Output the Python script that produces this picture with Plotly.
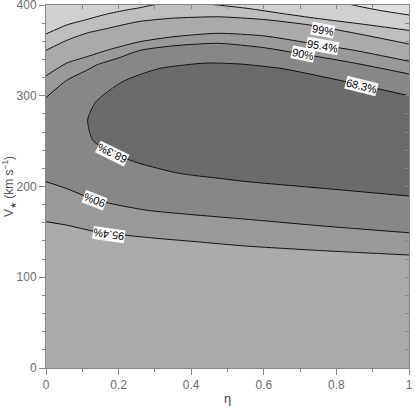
import plotly.graph_objects as go

# contour paths: eta (x) and V_star in km/s (y)
# outermost contour (only the top-right corner shows)
eta_b = [0.0, 0.3, 0.6, 0.75, 0.845, 0.92, 1.0]
v_b = [416, 430, 422, 410, 400, 394, 389]

# 99.73% contour (leaves the top between eta~0.3 and ~0.47)
eta_a = [0.0, 0.057, 0.112, 0.167, 0.222, 0.259, 0.294, 0.38, 0.473, 0.56, 0.644, 0.75, 0.87, 1.0]
v_a = [368, 378, 384, 390, 394.5, 397, 400, 403, 400, 396, 391, 385, 379, 372]

# 99%
eta_99 = [0.0, 0.057, 0.112, 0.167, 0.222, 0.259, 0.35, 0.473, 0.6, 0.726, 0.85, 1.0]
v_99 = [350, 361, 369, 374, 379, 382, 385.5, 387, 384, 378, 369, 357]

# 95.4% (upper and lower branch)
eta_954_up = [0.0, 0.057, 0.112, 0.167, 0.222, 0.259, 0.35, 0.473, 0.6, 0.726, 0.85, 1.0]
v_954_up = [322, 336, 343, 350, 356, 359.6, 365, 368.8, 366, 358, 350, 338]
eta_954_lo = [0.0, 0.055, 0.1376, 0.275, 0.413, 0.55, 0.762, 1.0]
v_954_lo = [161.2, 157.6, 150.2, 144, 139.2, 134.4, 129.3, 124.5]

# 90%
eta_90_up = [0.0, 0.057, 0.112, 0.14, 0.195, 0.259, 0.35, 0.473, 0.6, 0.726, 0.85, 1.0]
v_90_up = [298, 317, 328, 334, 341, 350, 355, 357.8, 353, 344.6, 336, 324]
eta_90_lo = [0.0, 0.055, 0.1376, 0.275, 0.413, 0.55, 0.762, 1.0]
v_90_lo = [205.3, 198, 185, 174, 168.6, 164, 156.5, 149]

# 68.3% closed loop, traced from the right edge (top) round to the right edge (bottom)
eta_683 = [1.0, 0.9, 0.809, 0.75, 0.65, 0.534, 0.44, 0.312, 0.211, 0.1376, 0.1147,
           0.1285, 0.1835, 0.2567, 0.3667, 0.4768, 0.55, 0.762, 1.0]
v_683 = [300, 309, 317, 322, 330, 335, 336, 330, 315.5, 293.4, 273.3,
         251.2, 236.6, 225.6, 214.5, 209, 205.5, 198, 189.5]

# contour labels
lab_text = ['99%', '95.4%', '90%', '68.3%', '68.3%', '90%', '95.4%']
lab_eta = [0.762, 0.762, 0.707, 0.869, 0.183, 0.133, 0.174]
lab_v = [373, 355, 346, 311, 236.6, 185, 147.3]
lab_angle = [10, 10, 12, 14, -154, -159, -172]

grey = '#6e6e6e'
fig = go.Figure()

# filled bands, outermost first
fig.add_trace(go.Scatter(x=eta_b, y=v_b, fill='tozeroy', fillcolor='#d0d0d0',
                         mode='none', hoverinfo='skip'))
fig.add_trace(go.Scatter(x=eta_a, y=v_a, fill='tozeroy', fillcolor='#bebebe',
                         mode='none', hoverinfo='skip'))
fig.add_trace(go.Scatter(x=eta_99, y=v_99, fill='tozeroy', fillcolor='#ababab',
                         mode='none', hoverinfo='skip'))
fig.add_trace(go.Scatter(x=eta_954_up + eta_954_lo[::-1], y=v_954_up + v_954_lo[::-1],
                         fill='toself', fillcolor='#999999', mode='none', hoverinfo='skip'))
fig.add_trace(go.Scatter(x=eta_90_up + eta_90_lo[::-1], y=v_90_up + v_90_lo[::-1],
                         fill='toself', fillcolor='#878787', mode='none', hoverinfo='skip'))
fig.add_trace(go.Scatter(x=eta_683, y=v_683, fill='toself', fillcolor='#6a6a6a',
                         mode='none', hoverinfo='skip'))

# contour lines on top
for xs, ys in [(eta_b, v_b), (eta_a, v_a), (eta_99, v_99),
               (eta_954_up, v_954_up), (eta_954_lo, v_954_lo),
               (eta_90_up, v_90_up), (eta_90_lo, v_90_lo), (eta_683, v_683)]:
    fig.add_trace(go.Scatter(x=xs, y=ys, mode='lines', hoverinfo='skip',
                             line=dict(color='#111111', width=1, shape='spline', smoothing=0.6)))

# dummy trace so the mirrored top/right axes get drawn
fig.add_trace(go.Scatter(x=[None], y=[None], xaxis='x2', yaxis='y2', hoverinfo='skip'))

for t, x, y, a in zip(lab_text, lab_eta, lab_v, lab_angle):
    fig.add_annotation(x=x, y=y, text=t, textangle=a, showarrow=False,
                       bgcolor='white', borderpad=0,
                       font=dict(family='Liberation Sans', size=11, color='black'))

fig.update_layout(
    width=415, height=406,
    margin=dict(l=46, r=6, t=5, b=38, autoexpand=False),
    paper_bgcolor='white',
    plot_bgcolor='#e0e0e0',
    showlegend=False,
    font=dict(family='Liberation Sans', size=12, color=grey),
    xaxis=dict(range=[0, 1], dtick=0.2, tickformat='~g', ticks='outside', ticklen=6,
               tickcolor='#888888', showgrid=False, zeroline=False, automargin=False,
               showline=True, linecolor='#888888', ticklabeloverflow='allow',
               minor=dict(dtick=0.1, ticks='outside', ticklen=3, tickcolor='#888888'),
               title=dict(text='η', standoff=6, font=dict(size=13, color='#444444'))),
    yaxis=dict(range=[0, 400], dtick=100, ticks='outside', ticklen=6,
               tickcolor='#888888', showgrid=False, zeroline=False, automargin=False,
               showline=True, linecolor='#888888', ticklabeloverflow='allow',
               minor=dict(dtick=20, ticks='outside', ticklen=3, tickcolor='#888888'),
               title=dict(text='V<sub>★</sub> (km s<sup>−1</sup>)', standoff=6,
                          font=dict(size=12, color='#555555'))),
    xaxis2=dict(range=[0, 1], overlaying='x', side='top', anchor='y', dtick=0.1,
                ticks='inside', ticklen=4, tickcolor='#888888', showticklabels=False,
                automargin=False,
                showgrid=False, zeroline=False, showline=True, linecolor='#888888'),
    yaxis2=dict(range=[0, 400], overlaying='y', side='right', anchor='x', dtick=20,
                ticks='inside', ticklen=4, tickcolor='#888888', showticklabels=False,
                automargin=False,
                showgrid=False, zeroline=False, showline=True, linecolor='#888888'),
)

# drop the browser's default page margin so the figure sits at the top-left corner
fig.write_html("out.html", config={'displayModeBar': False},
               post_script="document.body.style.margin='0';"
                           "document.body.style.overflow='hidden';")
